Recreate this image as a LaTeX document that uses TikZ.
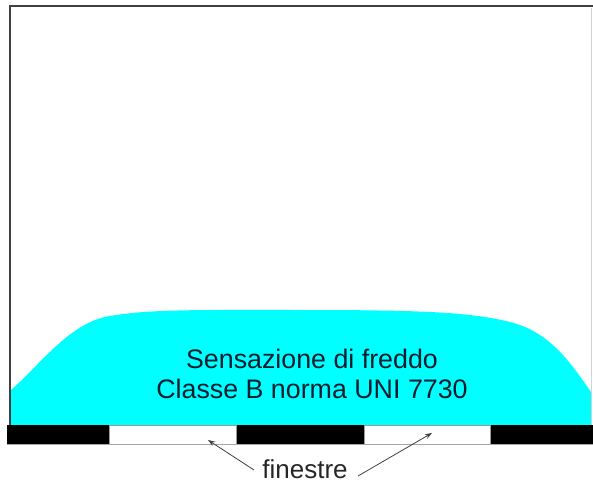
\documentclass[tikz,border=0pt]{standalone}
\usepackage{fontspec}
\setmainfont{Liberation Sans}
\usetikzlibrary{arrows.meta}
\definecolor{frame}{RGB}{64,64,64}
\definecolor{zone}{RGB}{0,255,255}
\definecolor{label}{RGB}{8,30,46}
\tikzset{
  wall/.style={draw=frame, line width=2pt},
  sill/.style={fill=black, draw=none},
  window/.style={fill=white, draw=gray!80, line width=0.8pt},
  pointer/.style={draw=black!75, line width=0.8pt, -{Stealth[length=7pt,width=5pt]}},
  caption/.style={font=\fontsize{26.8}{30}\selectfont, text=label, align=center},
}
\begin{document}
\begin{tikzpicture}[x=1pt, y=-1pt]
  \useasboundingbox (0,0) rectangle (593,486);
  % cold-draught zone along the floor
  \fill[zone] (11,425) -- (11,390)
    .. controls (40,365) and (70,322) .. (110,316)
    .. controls (150,309) and (200,310) .. (300,310)
    .. controls (420,310) and (470,312) .. (510,322)
    .. controls (550,332) and (570,362) .. (591,392)
    -- (591,425) -- cycle;
  % room outline
  \draw[wall] (10,425) -- (10,6) -- (593,6);
  \draw[gray!35, line width=1pt] (591,8) -- (591,425);
  % floor strip with two windows
  \fill[sill] (7,425) rectangle (593,444);
  \node[window, minimum width=127pt, minimum height=19pt, inner sep=0pt, anchor=north west] (w1) at (109,425) {};
  \node[window, minimum width=126pt, minimum height=19pt, inner sep=0pt, anchor=north west] (w2) at (364,425) {};
  \draw[gray!70, line width=1pt] (7,444.5) -- (593,444.5);
  % labels
  \node[caption, anchor=base] (txt) at (312,398) {Sensazione di freddo\\Classe B norma UNI 7730};
  \node[caption, font=\fontsize{26}{30}\selectfont, text=black!85, anchor=base, inner sep=2pt] (fin) at (305,478) {finestre};
  \coordinate (t1) at (208,440);
  \coordinate (t2) at (432,433);
  \coordinate (s1) at (254,470);
  \coordinate (s2) at (358,476);
  \draw[pointer] (s1) -- (t1);
  \draw[pointer] (s2) -- (t2);
\end{tikzpicture}
\end{document}
